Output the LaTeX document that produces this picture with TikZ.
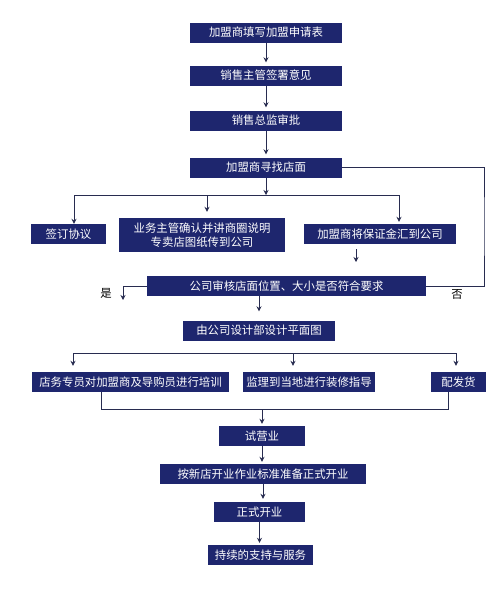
\documentclass[tikz,border=0pt]{standalone}
\usepackage{fontspec}
\newfontfamily\cjk{Noto Sans CJK SC}
\usetikzlibrary{arrows.meta,positioning}
\definecolor{navy}{RGB}{30,38,110}
\definecolor{wire}{RGB}{40,44,80}

\begin{document}
\begin{tikzpicture}[x=1pt,y=-1pt,>={Stealth[length=5pt,width=5pt]},
  every node/.style={font=\cjk\fontsize{11.4}{14}\selectfont},
  box/.style={fill=navy,text=white,minimum height=20pt,inner sep=0pt,align=center},
  link/.style={draw=wire,line width=0.9pt}]
  \useasboundingbox (0,0) rectangle (503,600);

  % Application steps
  \node[box,minimum width=152pt] (req) at (266,32.5) {加盟商填写加盟申请表};
  \node[box,minimum width=152pt] (sig) at (266,75.5) {销售主管签署意见};
  \node[box,minimum width=152pt] (app) at (266,120.5) {销售总监审批};
  \node[box,minimum width=152pt] (find) at (266,167.5) {加盟商寻找店面};

  \draw[link,->,shorten >=3pt] (req) -- (sig);
  \draw[link,->,shorten >=3pt] (sig) -- (app);
  \draw[link,->,shorten >=3pt] (app) -- (find);

  % Three parallel tasks
  \node[box,minimum width=75pt] (sign) at (68.5,234) {签订协议};
  \node[box,minimum width=166pt,minimum height=34pt] (conf) at (202,235)
    {业务主管确认并讲商圈说明\\专卖店图纸传到公司};
  \node[box,minimum width=152pt] (dep) at (380,234) {加盟商将保证金汇到公司};

  \coordinate (b1) at (266,195);
  \coordinate (b1l) at (74,195);
  \coordinate (b1m) at (207,195);
  \coordinate (b1r) at (399,195);
  \draw[link] (b1l) -- (b1r);
  \draw[link,->] (find) -- (b1);
  \draw[link,->] (b1l) -- (b1l |- sign.north);
  \draw[link,->,shorten >=6pt] (b1m) -- (b1m |- conf.north);
  \draw[link,->,shorten >=2pt] (b1r) -- (b1r |- dep.north);

  \coordinate (dt) at (356,249);
  \coordinate (dh) at (356,262);
  \draw[link,->] (dt) -- (dh);

  % Site check
  \node[box,minimum width=279pt] (check) at (286.5,286) {公司审核店面位置、大小是否符合要求};

  \coordinate (nc) at (484,226);
  \draw[link] (find.east) -| (nc) |- (check.east);
  \node (no) at (457,294) {否};

  \coordinate (yc) at (123,300);
  \draw[link,->] (check.west) -| (yc);
  \node (yes) at (106,293) {是};

  \node[box,minimum width=152pt] (design) at (259,330.5) {由公司设计部设计平面图};
  \draw[link,->,shorten >=9pt] (check.south -| design.north) -- (design.north);

  % Preparation
  \node[box,minimum width=197pt] (train) at (130.5,382) {店务专员对加盟商及导购员进行培训};
  \node[box,minimum width=132pt] (sup) at (309,382) {监理到当地进行装修指导};
  \node[box,minimum width=55pt] (ship) at (458.5,382) {配发货};

  \coordinate (b2l) at (73,353);
  \coordinate (b2m) at (293,353);
  \coordinate (b2r) at (456,353);
  \draw[link] (b2l) -- (b2r);
  \draw[link,->,shorten >=6pt] (b2l) -- (b2l |- train.north);
  \draw[link,->,shorten >=6pt] (b2m) -- (b2m |- sup.north);
  \draw[link,->,shorten >=6pt] (b2r) -- (b2r |- ship.north);

  \coordinate (m1) at (101,409);
  \coordinate (m0) at (262,409);
  \coordinate (m2) at (448,409);
  \draw[link] (train.south -| m1) |- (m2) -- (ship.south -| m2);

  % Opening
  \node[box,minimum width=86pt] (trial) at (262,436) {试营业};
  \node[box,minimum width=206pt] (prep) at (263,474) {按新店开业作业标准准备正式开业};
  \node[box,minimum width=91pt] (open) at (259.5,512) {正式开业};
  \node[box,minimum width=105pt] (serv) at (260.5,555) {持续的支持与服务};

  \draw[link,->,shorten >=2pt] (m0) -- (trial.north);
  \draw[link,->,shorten >=2pt] (trial) -- (trial |- prep.north);
  \draw[link,->,shorten >=3pt] (prep) -- (prep |- open.north);
  \draw[link,->,shorten >=2pt] (open) -- (open |- serv.north);
\end{tikzpicture}
\end{document}
